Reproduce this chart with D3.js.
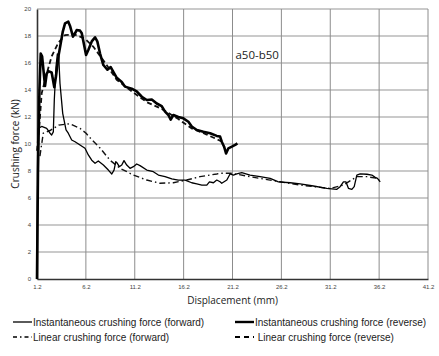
<!DOCTYPE html>
<html><head><meta charset="utf-8">
<script src="https://cdn.jsdelivr.net/npm/d3@7/dist/d3.min.js"></script>
<style>body{margin:0;background:#fff;}svg{display:block;}</style>
</head><body>
<script>
const xTicks = [1.2, 6.2, 11.2, 16.2, 21.2, 26.2, 31.2, 36.2, 41.2];
const yTicks = [0, 2, 4, 6, 8, 10, 12, 14, 16, 18, 20];

// Instantaneous crushing force (forward) [displacement mm, force kN]
const instForward = [
  [1.2,0],[1.25,6],[1.33,11.16],[1.68,11.3],[2.19,11.16],[2.53,10.8],[2.7,10.67],[2.87,10.9],
  [2.97,13.26],[3.14,15.7],[3.28,16.67],[3.42,16.5],[3.55,14.5],[3.83,12.27],[4.17,11.04],
  [4.4,10.8],[4.75,10.3],[5.09,10.17],[5.6,9.93],[6.11,9.68],[6.45,9.19],[6.8,8.8],[7.14,8.57],
  [7.47,8.74],[7.99,8.44],[8.5,8.07],[8.85,7.78],[9.08,8.07],[9.26,8.69],[9.42,8.57],[9.62,8.32],
  [9.87,8.44],[10.1,8.77],[10.38,8.44],[10.72,8.2],[11.06,8.32],[11.4,8.52],[11.74,8.4],
  [12.43,8.07],[13.1,7.95],[13.62,7.7],[14.3,7.58],[14.99,7.41],[15.66,7.33],[16.35,7.33],
  [17.03,7.13],[17.55,7.04],[18.06,6.96],[18.57,6.96],[18.84,7.2],[19.25,7.13],[19.59,7.33],
  [19.93,7.2],[20.1,7.09],[20.62,7.33],[20.95,7.78],[21.29,7.7],[21.64,7.78],[22.15,7.88],
  [23.0,7.7],[24.02,7.58],[25.05,7.46],[25.9,7.2],[27.1,7.13],[28.12,7.04],[29.48,6.89],
  [30.85,6.72],[31.88,6.64],[32.21,6.84],[32.55,7.2],[32.8,7.2],[33.06,6.72],[33.41,6.64],
  [33.65,6.84],[33.92,7.7],[34.26,7.78],[34.95,7.76],[35.46,7.7],[35.8,7.53],[36.03,7.46],[36.31,7.2]
];

// Instantaneous crushing force (reverse)
const instReverse = [
  [1.2,0],[1.3,8],[1.45,14],[1.58,16.7],[1.72,16.5],[2.02,14.3],[2.19,15.2],[2.36,15.4],
  [2.7,15.3],[2.97,14.2],[3.14,15.0],[3.42,16.6],[3.83,18.3],[4.07,18.94],[4.4,19.06],
  [4.6,18.7],[4.88,17.95],[5.09,18.2],[5.26,18.44],[5.6,18.4],[5.78,18.2],[6.22,16.6],
  [6.45,16.96],[6.8,17.6],[7.14,17.9],[7.37,17.6],[7.65,16.7],[7.99,15.85],[8.4,15.5],
  [8.74,15.7],[9.01,15.35],[9.36,14.9],[9.87,14.6],[10.2,14.25],[10.89,14.1],[11.4,13.9],
  [11.92,13.5],[12.43,13.26],[12.94,13.3],[13.45,13.0],[13.96,12.8],[14.3,12.4],[14.64,12.15],
  [14.88,11.8],[15.15,12.15],[15.66,12.0],[16.17,11.9],[16.69,11.65],[17.03,11.3],[17.55,11.04],
  [18.22,10.9],[18.91,10.8],[19.59,10.6],[19.93,10.55],[20.1,10.17],[20.34,9.8],[20.54,9.3],
  [20.78,9.68],[21.13,9.8],[21.47,9.93],[21.7,10.05]
];

// Linear crushing force (forward)
const linForward = [
  [1.5,9.1],[1.84,10.8],[2.53,11.0],[3.42,11.4],[4.58,11.5],[5.6,11.16],[6.22,10.8],[6.57,10.5],
  [7.65,9.7],[8.67,8.8],[9.7,8.2],[11.06,7.7],[12.43,7.33],[13.79,7.09],[15.15,7.13],
  [16.52,7.33],[17.88,7.58],[19.59,7.78],[19.93,7.83],[21.13,7.83],[23.0,7.58],[26.07,7.2],
  [28.12,6.96],[30.17,6.79],[31.19,6.7],[32.55,6.96],[33.92,7.58],[34.95,7.58],[35.97,7.46],[36.2,7.35]
];

// Linear crushing force (reverse)
const linReverse = [
  [1.2,9.5],[1.43,11.3],[1.68,13.75],[2.19,15.2],[2.7,16.5],[3.38,17.5],[4.07,18.07],
  [5.09,18.1],[6.11,17.8],[6.97,17.2],[8.33,15.85],[9.36,14.75],[10.89,13.9],[12.43,13.1],
  [13.96,12.6],[15.66,11.85],[17.03,11.15],[18.57,10.7],[19.76,10.3],[20.2,10.15]
];

const W = 439, H = 356;
const svg = d3.select("body").append("svg").attr("width", W).attr("height", H);
const m = {l:37, r:428, t:9, b:279};

const x = d3.scaleLinear().domain([1.2, 41.2]).range([m.l, m.r]);
const y = d3.scaleLinear().domain([0, 20]).range([m.b, m.t]);

// Grid
svg.append("g").selectAll("line").data(yTicks.filter(d=>d>0)).join("line")
  .attr("x1", m.l).attr("x2", m.r).attr("y1", d=>y(d)).attr("y2", d=>y(d))
  .attr("stroke", "#b8b8b8").attr("stroke-width", 1.4);
svg.append("g").selectAll("line").data(xTicks.filter(d=>d>1.2)).join("line")
  .attr("x1", d=>x(d)).attr("x2", d=>x(d)).attr("y1", m.t).attr("y2", m.b)
  .attr("stroke", "#8c8c8c").attr("stroke-width", 1);

// Axes
const xAxis = svg.append("g").attr("transform", `translate(0,${m.b})`)
  .call(d3.axisBottom(x).tickValues(xTicks).tickSize(0).tickPadding(6).tickFormat(d3.format(".1f")));
const yAxis = svg.append("g").attr("transform", `translate(${m.l},0)`)
  .call(d3.axisLeft(y).tickValues(yTicks).tickSize(0).tickPadding(6));
[xAxis, yAxis].forEach(g => {
  g.select(".domain").attr("stroke", "#333").attr("stroke-width", 1.6);
  g.selectAll("text").attr("font-family", "Liberation Sans, Arial, sans-serif")
    .attr("font-size", 6).attr("fill", "#444");
});

const line = d3.line().x(d=>x(d[0])).y(d=>y(d[1])).curve(d3.curveLinear);

svg.append("path").datum(linForward).attr("d", line).attr("fill","none")
  .attr("stroke","#111").attr("stroke-width",1.4).attr("stroke-dasharray","6,3,1.5,3");
svg.append("path").datum(linReverse).attr("d", line).attr("fill","none")
  .attr("stroke","#111").attr("stroke-width",1.8).attr("stroke-dasharray","5,3");
svg.append("path").datum(instForward).attr("d", line).attr("fill","none")
  .attr("stroke","#000").attr("stroke-width",1.3).attr("stroke-linejoin","round");
svg.append("path").datum(instReverse).attr("d", line).attr("fill","none")
  .attr("stroke","#000").attr("stroke-width",2.6).attr("stroke-linejoin","round");

// Titles
svg.append("text").attr("x", (m.l+m.r)/2).attr("y", 304).attr("text-anchor","middle")
  .attr("font-family","Open Sans, sans-serif").attr("font-size",10).attr("fill","#222")
  .text("Displacement (mm)");
svg.append("text").attr("transform", `translate(19,${(m.t+m.b)/2}) rotate(-90)`)
  .attr("text-anchor","middle").attr("font-family","Open Sans, sans-serif").attr("font-size",10)
  .attr("fill","#222").text("Crushing force (kN)");
svg.append("text").attr("x", x(21.5)).attr("y", y(16.3)).attr("font-family","Open Sans, sans-serif")
  .attr("font-size",11.5).attr("fill","#222").text("a50-b50");

// Legend
const legend = [
  {label:"Instantaneous crushing force (forward)", col:0, row:0, w:1.3, dash:null},
  {label:"Instantaneous crushing force (reverse)", col:1, row:0, w:2.4, dash:null},
  {label:"Linear crushing force (forward)", col:0, row:1, w:1.3, dash:"4,3,1.5,3"},
  {label:" Linear crushing force (reverse)", col:1, row:1, w:1.8, dash:"5,4"}
];
const colX = [13, 235], rowY = [322, 337];
const lg = svg.append("g").selectAll("g").data(legend).join("g")
  .attr("transform", d=>`translate(${colX[d.col]},${rowY[d.row]})`);
lg.append("line").attr("x1",0).attr("x2",19).attr("y1",0).attr("y2",0)
  .attr("stroke","#000").attr("stroke-width",d=>d.w).attr("stroke-dasharray",d=>d.dash);
lg.append("text").attr("x",20).attr("y",3.5).attr("font-family","Liberation Sans, Arial, sans-serif")
  .attr("font-size",10).attr("fill","#222").style("white-space","pre").text(d=>d.label);
</script>
</body></html>
